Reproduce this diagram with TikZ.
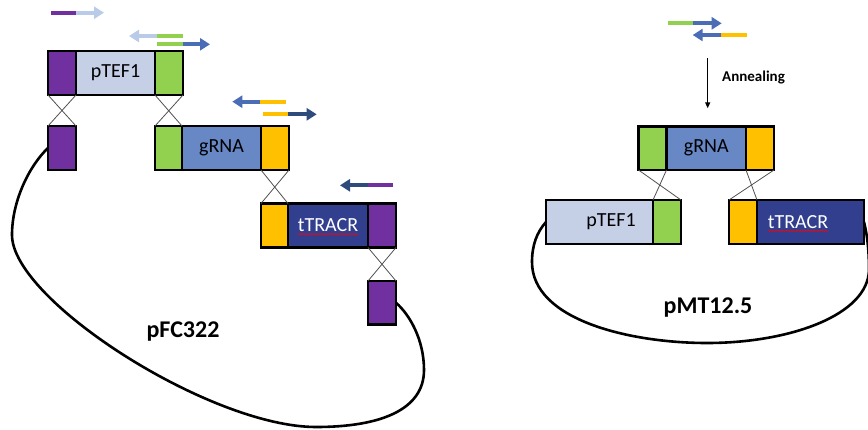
\documentclass[tikz,border=0pt]{standalone}
\usepackage{fontspec}
\setmainfont{Carlito}
\usetikzlibrary{arrows.meta,decorations.pathmorphing}
\definecolor{cpurple}{HTML}{7030A0}
\definecolor{clight}{HTML}{C5D0E7}
\definecolor{clightarr}{HTML}{B9CBE8}
\definecolor{cgreen}{HTML}{92D050}
\definecolor{cblue}{HTML}{6787C5}
\definecolor{cyellow}{HTML}{FFC000}
\definecolor{cnavy}{HTML}{323F8F}
\definecolor{carrblue}{HTML}{4A6DB5}
\definecolor{carrnavy}{HTML}{2F4B7C}
\definecolor{cxline}{HTML}{505050}
\begin{document}
\begin{tikzpicture}[x=1pt,y=-1pt,
 seg/.style={draw=black,line width=2.2pt,inner sep=0pt,outer sep=0pt,minimum height=44pt,anchor=north west},
 lbl/.style={inner sep=0pt,font=\fontsize{20}{24}\selectfont},
 big/.style={inner sep=0pt,font=\fontsize{24}{28}\selectfont\bfseries},
 xline/.style={draw=cxline,line width=0.8pt},
 strand/.style={line width=4pt},
 tipped/.style={-{Triangle[length=10pt,width=12pt]}},
 loopline/.style={draw=black,line width=2.6pt},
 wavy/.style={draw=red,line width=0.5pt,decorate,decoration={snake,amplitude=0.7pt,segment length=2.5pt}}]
\useasboundingbox (0,0) rectangle (868,429);

% ---------- left construct ----------
\node[seg,fill=cpurple,minimum width=28pt] (LaP) at (48,51) {};
\node[seg,fill=clight,minimum width=79pt] (LaT) at (76,51) {};
\node[seg,fill=cgreen,minimum width=28pt] (LaG) at (155,51) {};
\node[lbl] (LaTx) at (LaT.center) {pTEF1};

\node[seg,fill=cpurple,minimum width=28pt] (LbP) at (48,126) {};

\node[seg,fill=cgreen,minimum width=27pt] (LgG) at (155,126) {};
\node[seg,fill=cblue,minimum width=79pt] (LgB) at (182,126) {};
\node[seg,fill=cyellow,minimum width=28pt] (LgY) at (261,126) {};
\node[lbl] (LgTx) at (LgB.center) {gRNA};

\node[seg,fill=cyellow,minimum width=27pt] (LtY) at (261,203.5) {};
\node[seg,fill=cnavy,minimum width=80pt] (LtN) at (288,203.5) {};
\node[seg,fill=cpurple,minimum width=28pt] (LtP) at (368,203.5) {};
\node[lbl,text=white] (LtTx) at (LtN.center) {tTRACR};
\draw[wavy] ([yshift=-2pt]LtTx.south west) -- ([yshift=-2pt]LtTx.south east);

\node[seg,fill=cpurple,minimum width=28pt,minimum height=43.5pt] (LcP) at (368,281) {};

\draw[xline] (LaP.south west) -- (LbP.north east);
\draw[xline] (LaP.south east) -- (LbP.north west);
\draw[xline] (LaG.south west) -- (LgG.north east);
\draw[xline] (LaG.south east) -- (LgG.north west);
\draw[xline] (LgY.south west) -- (LtY.north east);
\draw[xline] (LgY.south east) -- (LtY.north west);
\draw[xline] (LtP.south west) -- (LcP.north east);
\draw[xline] (LtP.south east) -- (LcP.north west);

\draw[loopline] (LbP.west) .. controls (30,165) and (12,200) .. (12,235)
  .. controls (12,300) and (210,427) .. (316,427)
  .. controls (380,427) and (424,410) .. (424,370)
  .. controls (424,340) and (410,315) .. (LcP.east);

\node[big] (pFC) at (183,332) {pFC322};

% strands left
\draw[strand,cpurple] (51,12.7) -- (76,12.7);
\draw[strand,clightarr,tipped] (76,12.7) -- (104,12.7);
\draw[strand,cgreen] (182.7,36) -- (156.7,36);
\draw[strand,clightarr,tipped] (156.7,36) -- (129,36);
\draw[strand,cgreen] (156.7,44.3) -- (182.7,44.3);
\draw[strand,carrblue,tipped] (182.7,44.3) -- (210,44.3);
\draw[strand,cyellow] (285.7,101.7) -- (260,101.7);
\draw[strand,carrblue,tipped] (260,101.7) -- (232.3,101.7);
\draw[strand,cyellow] (262.7,114.3) -- (288.3,114.3);
\draw[strand,carrnavy,tipped] (288.3,114.3) -- (316.7,114.3);
\draw[strand,cpurple] (393.3,185.3) -- (368.3,185.3);
\draw[strand,carrnavy,tipped] (368.3,185.3) -- (340,185.3);

% ---------- right construct ----------
\draw[strand,cgreen] (668.3,23.3) -- (693.3,23.3);
\draw[strand,carrblue,tipped] (693.3,23.3) -- (721.7,23.3);
\draw[strand,cyellow] (746.7,35) -- (721,35);
\draw[strand,carrblue,tipped] (721,35) -- (692.7,35);

\coordinate (aT) at (707.7,58.3);
\coordinate (aB) at (707.7,108.3);
\draw[line width=1.3pt,-{Triangle[length=6pt,width=5pt]}] (aT) -- (aB);
\node[inner sep=0pt,anchor=west,font=\fontsize{15}{18}\selectfont\bfseries] (ann) at (722,78) {Annealing};

\node[seg,fill=cgreen,minimum width=28pt,minimum height=43.5pt] (RgG) at (638.5,126.5) {};
\node[seg,fill=cblue,minimum width=79.5pt,minimum height=43.5pt] (RgB) at (666.5,126.5) {};
\node[seg,fill=cyellow,minimum width=28pt,minimum height=43.5pt] (RgY) at (746,126.5) {};
\node[lbl] (RgTx) at (RgB.center) {gRNA};

\node[seg,fill=clight,minimum width=107pt] (RpT) at (546,200) {};
\node[seg,fill=cgreen,minimum width=28pt] (RpG) at (653,200) {};
\node[lbl] (RpTx) at (611,222) {pTEF1};

\node[seg,fill=cyellow,minimum width=28pt] (RtY) at (729,200) {};
\node[seg,fill=cnavy,minimum width=107pt] (RtN) at (757,200) {};
\node[lbl,text=white] (RtTx) at (798,222) {tTRACR};
\draw[wavy] ([yshift=-2pt]RtTx.south west) -- ([yshift=-2pt]RtTx.south east);

\draw[xline] (RgG.south west) -- (RpG.north east);
\draw[xline] (RgG.south east) -- (RpG.north west);
\draw[xline] (RgY.south west) -- (RtY.north east);
\draw[xline] (RgY.south east) -- (RtY.north west);

\draw[loopline] (RpT.west) .. controls (537,232) and (532,245) .. (532,262)
  .. controls (532,320) and (630,343) .. (707,343)
  .. controls (790,343) and (868,315) .. (869,270)
  .. controls (869,245) and (866,230) .. (RtN.east);

\node[big] (pMT) at (708,308) {pMT12.5};
\end{tikzpicture}
\end{document}
